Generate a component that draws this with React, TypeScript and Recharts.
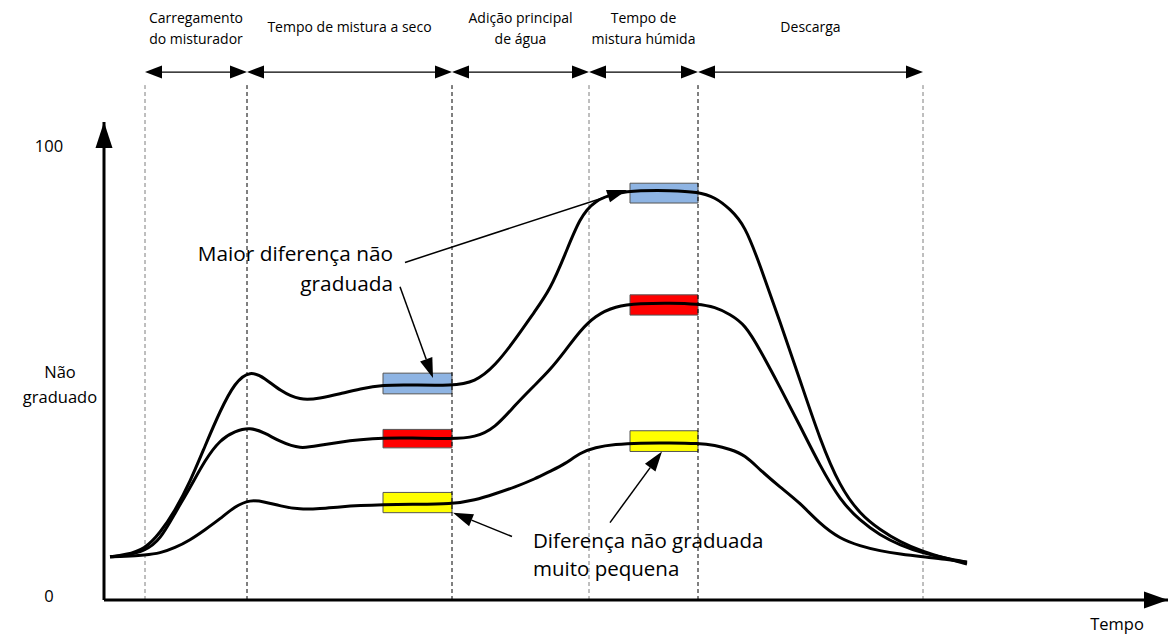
import React from 'react';
import { LineChart, Line, XAxis, YAxis, ReferenceLine, ReferenceArea, ReferenceDot } from 'recharts';

// ---- Data (time in arbitrary units, value in % "não graduado") ----
const timeSamples = [6, 21, 41, 56, 71, 86, 101, 116, 131, 146, 161, 176, 196, 216, 236, 256, 279, 306, 348, 371, 391, 411, 431, 446, 461, 476, 491, 511, 536, 566, 594, 611, 626, 641, 656, 676, 696, 716, 736, 756, 776, 796, 819, 841, 863];
const upperCurve = [8.6, 9.0, 10.3, 13.9, 18.8, 25.2, 33.2, 41.0, 47.4, 50.0, 48.3, 45.5, 43.3, 43.8, 44.8, 45.9, 46.8, 46.8, 46.6, 47.4, 51.0, 56.8, 63.2, 67.9, 75.7, 84.1, 87.8, 89.4, 90.0, 90.0, 89.7, 88.5, 85.9, 82.2, 73.4, 60.8, 47.9, 34.6, 24.1, 18.1, 14.6, 11.9, 9.7, 8.3, 7.0];
const middleCurve = [8.6, 8.8, 9.9, 12.3, 18.3, 23.9, 30.1, 34.6, 36.5, 37.4, 36.1, 34.2, 32.5, 33.4, 34.1, 34.6, 35.0, 35.0, 34.8, 35.1, 37.2, 42.3, 46.8, 50.1, 54.3, 58.8, 62.1, 64.3, 64.9, 65.0, 64.8, 64.1, 62.5, 60.2, 54.6, 46.3, 37.7, 28.8, 21.2, 16.6, 13.4, 11.2, 9.4, 8.3, 7.4];
const lowerCurve = [8.6, 8.7, 9.0, 9.4, 10.6, 12.3, 14.6, 17.0, 19.8, 21.3, 20.8, 19.9, 19.1, 19.3, 19.7, 20.0, 20.2, 20.3, 20.3, 21.2, 22.6, 24.1, 25.9, 27.6, 29.2, 31.7, 32.9, 33.6, 33.9, 33.9, 33.8, 33.4, 32.5, 31.2, 27.9, 24.1, 20.6, 15.9, 12.6, 11.0, 9.9, 9.2, 8.6, 8.1, 7.4];

const phaseBounds = [41, 143, 348, 485, 594, 819];
const phaseBoundGray = [true, false, false, true, false, true];
const phaseLabels = [
  ['Carregamento', 'do misturador'],
  ['Tempo de mistura a seco'],
  ['Adição principal', 'de água'],
  ['Tempo de', 'mistura húmida'],
  ['Descarga'],
];
const phaseArrowLevel = 116.3;
const guideTop = 113.4;

const dryWindow = [279, 348];
const wetWindow = [526, 594];
const boxColors = ['#8EB4E3', '#FF0000', '#FFFF00'];
const dryBoxes = [[44.8, 49.4], [32.8, 36.9], [18.4, 22.9]];
const wetBoxes = [[87.2, 91.6], [62.3, 66.8], [32.0, 36.6]];

const yTicks = [0, 46.9, 100];
const yTickLabels = [['0'], ['Não', 'graduado'], ['100']];
const xAxisLabel = 'Tempo';
const xMax = 1064;
const yDomain = [-1, 105.2];

const bigDiffText = ['Maior diferença não', 'graduada'];
const bigDiffAnchor = [289, 72.8];
const bigDiffArrows = [[301, 74.0, 523, 90.1], [296, 68.6, 329, 48.3]];
const smallDiffText = ['Diferença não graduada', 'muito pequena'];
const smallDiffAnchor = [429, 9.2];
const smallDiffArrows = [[408, 13.1, 349, 18.4], [506, 16.2, 558, 32.0]];

const chartData = timeSamples.map((t, i) => ({
  t,
  upper: upperCurve[i],
  middle: middleCurve[i],
  lower: lowerCurve[i],
}));

const FONT = '"Open Sans", "Noto Sans", sans-serif';

function headPoints(x1: number, y1: number, x2: number, y2: number, len: number, half: number) {
  const dx = x2 - x1;
  const dy = y2 - y1;
  const d = Math.sqrt(dx * dx + dy * dy) || 1;
  const ux = dx / d;
  const uy = dy / d;
  const bx = x2 - ux * len;
  const by = y2 - uy * len;
  const px = -uy * half;
  const py = ux * half;
  return {
    pts: `${x2},${y2} ${bx + px},${by + py} ${bx - px},${by - py}`,
    bx,
    by,
  };
}

const ArrowShape = (props: any) => {
  const { x1, y1, x2, y2 } = props;
  if (x1 == null) return null;
  const h = headPoints(x1, y1, x2, y2, 20, 6.5);
  return (
    <g>
      <line x1={x1} y1={y1} x2={h.bx} y2={h.by} stroke="#000" strokeWidth={1.5} />
      <polygon points={h.pts} fill="#000" />
    </g>
  );
};

const makePhaseShape = (labels: string[]) => (props: any) => {
  const { x1, y1, x2, y2 } = props;
  if (x1 == null) return null;
  const a = headPoints(x2, y2, x1, y1, 17, 6.5);
  const b = headPoints(x1, y1, x2, y2, 17, 6.5);
  const cx = (x1 + x2) / 2;
  const lineYs = labels.length === 2 ? [y1 - 55, y1 - 34] : [y1 - 46];
  return (
    <g>
      <line x1={a.bx} y1={y1} x2={b.bx} y2={y2} stroke="#000" strokeWidth={1.3} />
      <polygon points={a.pts} fill="#000" />
      <polygon points={b.pts} fill="#000" />
      {labels.map((s, i) => (
        <text key={i} x={cx} y={lineYs[i]} textAnchor="middle" dominantBaseline="central" fontFamily={FONT} fontSize={14} fill="#000">
          {s}
        </text>
      ))}
    </g>
  );
};

const GuideShape = (gray: boolean) => (props: any) => {
  const { x1, y1, x2, y2 } = props;
  if (x1 == null) return null;
  return <line x1={x1} y1={y1} x2={x2} y2={y2} stroke={gray ? '#7f7f7f' : '#000'} strokeWidth={1} strokeDasharray="4 3" />;
};

const makeTextShape = (lines: string[], anchor: 'start' | 'end' | 'middle', size: number, lineH: number) => (props: any) => {
  const { cx, cy } = props;
  if (cx == null) return null;
  const start = cy - ((lines.length - 1) * lineH) / 2;
  return (
    <g>
      {lines.map((s, i) => (
        <text key={i} x={cx} y={start + i * lineH} textAnchor={anchor} dominantBaseline="central" fontFamily={FONT} fontSize={size} fill="#000">
          {s}
        </text>
      ))}
    </g>
  );
};

const UpArrowHead = (props: any) => {
  const { cx, cy } = props;
  if (cx == null) return null;
  return <polygon points={`${cx},${cy} ${cx - 8.5},${cy + 26} ${cx + 8.5},${cy + 26}`} fill="#000" />;
};

const RightArrowHead = (props: any) => {
  const { cx, cy } = props;
  if (cx == null) return null;
  return <polygon points={`${cx},${cy} ${cx - 24},${cy - 8.5} ${cx - 24},${cy + 8.5}`} fill="#000" />;
};

const YTick = (props: any) => {
  const { x, y, index } = props;
  const lines = yTickLabels[index] || [];
  const cx = lines.length > 1 ? x - 36 : x - 47;
  const lineH = 25;
  const start = y - ((lines.length - 1) * lineH) / 2;
  return (
    <g>
      {lines.map((s: string, i: number) => (
        <text key={i} x={cx} y={start + i * lineH} textAnchor="middle" dominantBaseline="central" fontFamily={FONT} fontSize={16.5} fill="#000">
          {s}
        </text>
      ))}
    </g>
  );
};

export default function App() {
  return (
    <div style={{ position: 'absolute', left: 0, top: 0, width: 1173, height: 637, background: '#fff' }}>
      <LineChart width={1173} height={637} data={chartData} margin={{ top: 122, right: 5, bottom: 0, left: 4 }}>
        <XAxis
          type="number"
          dataKey="t"
          domain={[0, xMax]}
          allowDataOverflow
          height={37}
          tick={false}
          tickLine={false}
          axisLine={{ stroke: '#000', strokeWidth: 3 }}
        />
        <YAxis
          type="number"
          domain={yDomain}
          allowDataOverflow
          width={100}
          ticks={yTicks}
          interval={0}
          tickLine={false}
          tick={<YTick />}
          axisLine={{ stroke: '#000', strokeWidth: 3 }}
        />

        {phaseBounds.map((b, i) => (
          <ReferenceLine
            key={`g${i}`}
            segment={[{ x: b, y: yDomain[0] }, { x: b, y: guideTop }]}
            ifOverflow="visible"
            shape={GuideShape(phaseBoundGray[i])}
          />
        ))}

        {phaseLabels.map((labels, i) => (
          <ReferenceLine
            key={`p${i}`}
            segment={[{ x: phaseBounds[i], y: phaseArrowLevel }, { x: phaseBounds[i + 1], y: phaseArrowLevel }]}
            ifOverflow="visible"
            shape={makePhaseShape(labels)}
          />
        ))}

        {dryBoxes.map((b, i) => (
          <ReferenceArea
            key={`d${i}`}
            x1={dryWindow[0]}
            x2={dryWindow[1]}
            y1={b[0]}
            y2={b[1]}
            fill={boxColors[i]}
            fillOpacity={1}
            stroke="#555"
            strokeWidth={1}
            ifOverflow="visible"
          />
        ))}
        {wetBoxes.map((b, i) => (
          <ReferenceArea
            key={`w${i}`}
            x1={wetWindow[0]}
            x2={wetWindow[1]}
            y1={b[0]}
            y2={b[1]}
            fill={boxColors[i]}
            fillOpacity={1}
            stroke="#555"
            strokeWidth={1}
            ifOverflow="visible"
          />
        ))}

        <Line dataKey="upper" type="basis" stroke="#000" strokeWidth={3} dot={false} activeDot={false} isAnimationActive={false} />
        <Line dataKey="middle" type="basis" stroke="#000" strokeWidth={3} dot={false} activeDot={false} isAnimationActive={false} />
        <Line dataKey="lower" type="basis" stroke="#000" strokeWidth={3} dot={false} activeDot={false} isAnimationActive={false} />

        {[...bigDiffArrows, ...smallDiffArrows].map((a, i) => (
          <ReferenceLine
            key={`a${i}`}
            segment={[{ x: a[0], y: a[1] }, { x: a[2], y: a[3] }]}
            ifOverflow="visible"
            shape={ArrowShape}
          />
        ))}

        <ReferenceDot x={bigDiffAnchor[0]} y={bigDiffAnchor[1]} ifOverflow="visible" shape={makeTextShape(bigDiffText, 'end', 20.8, 30)} />
        <ReferenceDot x={smallDiffAnchor[0]} y={smallDiffAnchor[1]} ifOverflow="visible" shape={makeTextShape(smallDiffText, 'start', 20.5, 28)} />

        <ReferenceDot x={0} y={yDomain[1]} ifOverflow="visible" shape={UpArrowHead} />
        <ReferenceDot x={xMax} y={yDomain[0]} ifOverflow="visible" shape={RightArrowHead} />
        <ReferenceDot x={1013} y={-6.3} ifOverflow="visible" shape={makeTextShape([xAxisLabel], 'middle', 16.5, 20)} />
      </LineChart>
    </div>
  );
}
